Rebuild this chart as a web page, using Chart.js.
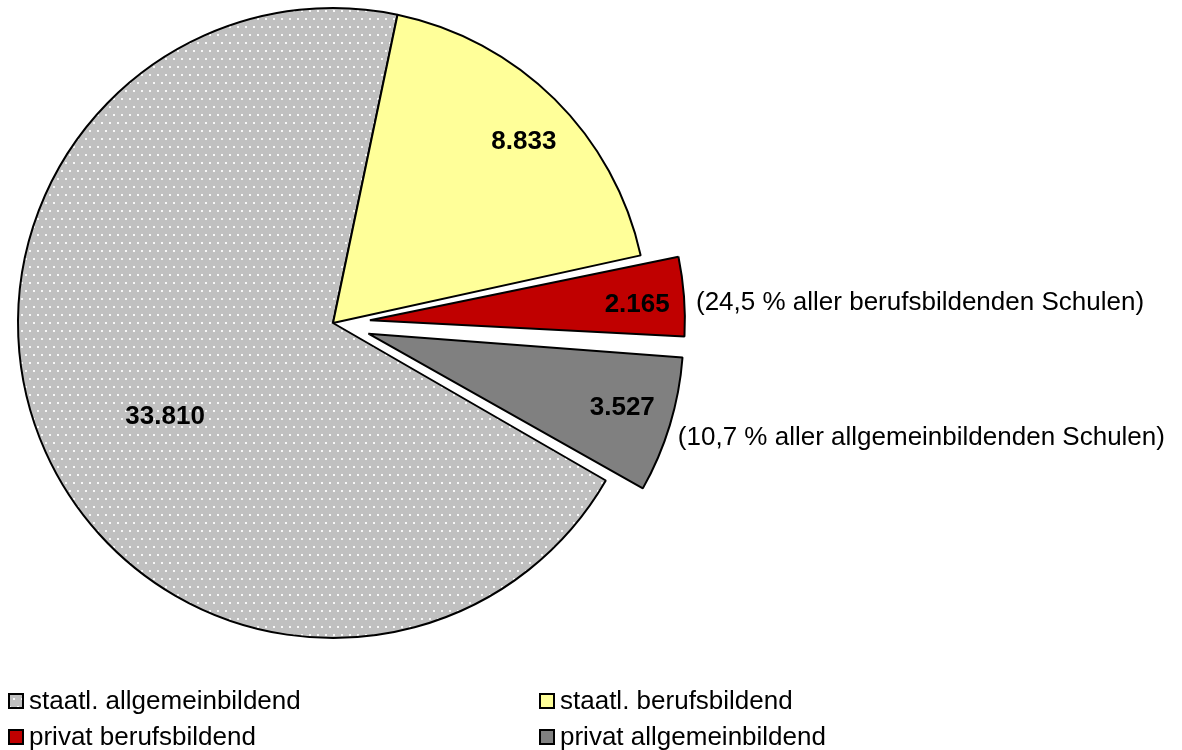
<!DOCTYPE html>
<html lang="de">
<head>
  <meta charset="UTF-8" />
  <title>Schüler an staatlichen und privaten Schulen</title>
  <script src="https://cdn.jsdelivr.net/npm/chart.js"></script>
  <style>
    html, body {
      margin: 0;
      padding: 0;
      background: #fff;
    }
    #wrap {
      position: relative;
      width: 1182px;
      height: 750px;
    }
  </style>
</head>
<body>
  <div id="wrap"><canvas id="pieChart" width="1182" height="750"></canvas></div>

<script>
  // data
  const categories = ["staatl. allgemeinbildend", "staatl. berufsbildend", "privat berufsbildend", "privat allgemeinbildend"];
  const pupils = [33810, 8833, 2165, 3527];
  const valueLabels = ["33.810", "8.833", "2.165", "3.527"];
  const notes = ["", "", "(24,5 % aller berufsbildenden Schulen)", "(10,7 % aller allgemeinbildenden Schulen)"];

  // look
  const RADIUS = 315;
  const EXPLODE = [0, 0, 37, 37];
  const sliceColors = ["#c0c0c0", "#ffff99", "#c00000", "#808080"];
  const labelRadius = [0.61, 0.835, 0.85, 0.84];
  const labelShift = [-5, 1.8, 1, -0.5];   // degrees
  const noteShift = [null, null, [12, 6], [8, 13]];
  const FONT = "'Liberation Sans', Arial, sans-serif";

  // gray with white dots, staggered rows
  function dotPattern() {
    const c = document.createElement("canvas");
    c.width = 8; c.height = 16;
    const x = c.getContext("2d");
    x.fillStyle = "#c0c0c0";
    x.fillRect(0, 0, 8, 16);
    x.fillStyle = "#f8f8f8";
    x.fillRect(1, 2, 2, 2);
    x.fillRect(5, 10, 2, 2);
    return x.createPattern(c, "repeat");
  }
  const pattern = dotPattern();
  const fills = sliceColors.map((c, i) => i === 0 ? pattern : c);

  // chart.js v4 arc draw translates by offset/4 and grows the radius a bit for small arcs; undo the growth
  const fixRadius = {
    id: "fixRadius",
    beforeDatasetsDraw(chart) {
      chart.getDatasetMeta(0).data.forEach((arc, i) => {
        const off = EXPLODE[i];
        const circ = arc.endAngle - arc.startAngle;
        const fix = 1 - Math.sin(Math.min(Math.PI, circ));
        arc.outerRadius = RADIUS - off * fix;
      });
    }
  };

  const labelPlugin = {
    id: "labels",
    afterDatasetsDraw(chart) {
      const ctx = chart.ctx;
      const arcs = chart.getDatasetMeta(0).data;
      ctx.save();
      ctx.fillStyle = "#000";
      arcs.forEach((arc, i) => {
        const mid = (arc.startAngle + arc.endAngle) / 2;
        const cx = arc.x + Math.cos(mid) * EXPLODE[i];
        const cy = arc.y + Math.sin(mid) * EXPLODE[i];
        const a = mid + labelShift[i] * Math.PI / 180;
        const r = RADIUS * labelRadius[i];
        ctx.font = "bold 26px " + FONT;
        ctx.textAlign = "center";
        ctx.textBaseline = "middle";
        ctx.fillText(valueLabels[i], cx + Math.cos(a) * r, cy + Math.sin(a) * r);

        if (notes[i]) {
          const ex = cx + Math.cos(mid) * RADIUS;
          const ey = cy + Math.sin(mid) * RADIUS;
          ctx.font = "26px " + FONT;
          ctx.textAlign = "left";
          ctx.fillText(notes[i], ex + noteShift[i][0], ey + noteShift[i][1]);
        }
      });
      ctx.restore();
    }
  };

  // two column legend at the bottom
  const legendPlugin = {
    id: "bottomLegend",
    afterDraw(chart) {
      const ctx = chart.ctx;
      const colX = [8, 539];
      const rowY = [693, 729];
      ctx.save();
      ctx.font = "26px " + FONT;
      ctx.textBaseline = "alphabetic";
      ctx.textAlign = "left";
      categories.forEach((name, i) => {
        const x = colX[i % 2];
        const y = rowY[Math.floor(i / 2)];
        ctx.fillStyle = fills[i];
        ctx.fillRect(x, y, 16, 16);
        ctx.lineWidth = 2;
        ctx.strokeStyle = "#000";
        ctx.strokeRect(x + 1, y + 1, 14, 14);
        ctx.fillStyle = "#000";
        ctx.fillText(name, x + 21, y + 16);
      });
      ctx.restore();
    }
  };

  new Chart(document.getElementById("pieChart"), {
    type: "pie",
    data: {
      labels: categories,
      datasets: [{
        data: pupils,
        backgroundColor: fills,
        borderColor: "#000",
        borderWidth: 2,
        offset: EXPLODE.map(o => o * 4)
      }]
    },
    options: {
      responsive: false,
      animation: false,
      events: [],
      rotation: 120,
      radius: RADIUS,
      layout: { padding: { left: 0, top: 0, right: 516, bottom: 104 } },
      plugins: {
        legend: { display: false },
        tooltip: { enabled: false }
      }
    },
    plugins: [fixRadius, labelPlugin, legendPlugin]
  });
</script>
</body>
</html>
